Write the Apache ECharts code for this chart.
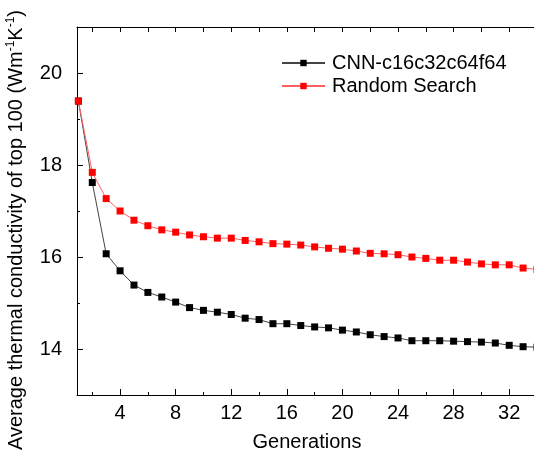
<!DOCTYPE html>
<html>
<head>
<meta charset="utf-8">
<script src="https://cdn.jsdelivr.net/npm/echarts@6/dist/echarts.min.js"></script>
<style>html,body{margin:0;padding:0;background:#fff}#c{width:534px;height:455px}</style>
</head>
<body>
<div id="c"></div>
<script>
const generations = [1,2,3,4,5,6,7,8,9,10,11,12,13,14,15,16,17,18,19,20,21,22,23,24,25,26,27,28,29,30,31,32,33,34];
const cnnValues = [19.39,17.62,16.07,15.70,15.39,15.23,15.13,15.02,14.90,14.84,14.80,14.75,14.67,14.64,14.55,14.55,14.51,14.48,14.46,14.41,14.37,14.31,14.27,14.24,14.18,14.18,14.18,14.17,14.16,14.15,14.13,14.08,14.05,14.04];
const randomValues = [19.39,17.84,17.27,17.00,16.80,16.68,16.59,16.54,16.48,16.44,16.41,16.41,16.36,16.33,16.29,16.28,16.26,16.22,16.19,16.17,16.13,16.08,16.07,16.05,16.00,15.97,15.93,15.93,15.89,15.85,15.83,15.83,15.76,15.73];
const xMajorTicks = [4,8,12,16,20,24,28,32];
const xMinorTicks = [2,6,10,14,18,22,26,30,34];
const yMajorTicks = [14,16,18,20];
const yMinorTicks = [15,17,19];
const seriesNames = ['CNN-c16c32c64f64','Random Search'];

const FONT = '"Liberation Sans", Arial, sans-serif';
const FS = 20;
const chart = echarts.init(document.getElementById('c'), null, {renderer:'canvas'});
function xAx(pos, ticks, len, showLine, showLabel, extra) {
  return Object.assign({
    type:'value', position:pos, min:0.9, max:34,
    axisLine:{show:showLine, onZero:false, lineStyle:{color:'#000', width:1}},
    axisTick:{show:true, inside:true, length:len, customValues:ticks, lineStyle:{color:'#000', width:1}},
    axisLabel:{show:showLabel, customValues:ticks, fontFamily:FONT, fontSize:FS, color:'#000', margin:8},
    splitLine:{show:false}
  }, extra||{});
}
function yAx(pos, ticks, len, showLine, showLabel, extra) {
  return Object.assign({
    type:'value', position:pos, min:13, max:21,
    axisLine:{show:showLine, onZero:false, lineStyle:{color:'#000', width:1}},
    axisTick:{show:true, inside:true, length:len, customValues:ticks, lineStyle:{color:'#000', width:1}},
    axisLabel:{show:showLabel, customValues:ticks, fontFamily:FONT, fontSize:FS, color:'#000', margin:15},
    splitLine:{show:false}
  }, extra||{});
}
chart.setOption({
  animation:false,
  backgroundColor:'#fff',
  grid:{left:77, top:27, right:-3, bottom:60, containLabel:false, outerBoundsMode:'none'},
  legend:{
    orient:'vertical', left:276, top:48, itemWidth:43, itemHeight:8, itemGap:3,
    textStyle:{fontFamily:FONT, fontSize:FS, color:'#000', padding:[0,0,0,2]},
    data:seriesNames
  },
  xAxis:[
    xAx('bottom', xMajorTicks, 6, true, true, {name:'Generations', nameLocation:'middle', nameGap:37,
      nameTextStyle:{fontFamily:FONT, fontSize:FS, color:'#000'}}),
    xAx('bottom', xMinorTicks, 3, false, false),
    xAx('top', xMajorTicks, 5, true, false),
    xAx('top', xMinorTicks, 5, false, false)
  ],
  yAxis:[
    yAx('left', yMajorTicks, 6, true, true, {
      name:'Average thermal conductivity of top 100 (Wm{sup|-1}K{sup|-1})',
      nameLocation:'middle', nameGap:43,
      nameTextStyle:{fontFamily:FONT, fontSize:FS, color:'#000', lineHeight:24, padding:[0,38,0,0],
        rich:{sup:{fontFamily:FONT, fontSize:12, color:'#000', verticalAlign:'top', lineHeight:24, padding:[0,0,8,0]}}}
    }),
    yAx('left', yMinorTicks, 3, false, false)
  ],
  series:[
    {name:seriesNames[0], type:'line', data:generations.map((g,i)=>[g,cnnValues[i]]),
     symbol:'rect', symbolSize:7, clip:true,
     itemStyle:{color:'#000'}, lineStyle:{color:'#444', width:1}, z:3},
    {name:seriesNames[1], type:'line', data:generations.map((g,i)=>[g,randomValues[i]]),
     symbol:'rect', symbolSize:7, clip:true,
     itemStyle:{color:'#ff0000'}, lineStyle:{color:'#ff6060', width:1}, z:4}
  ]
});
</script>
</body>
</html>
